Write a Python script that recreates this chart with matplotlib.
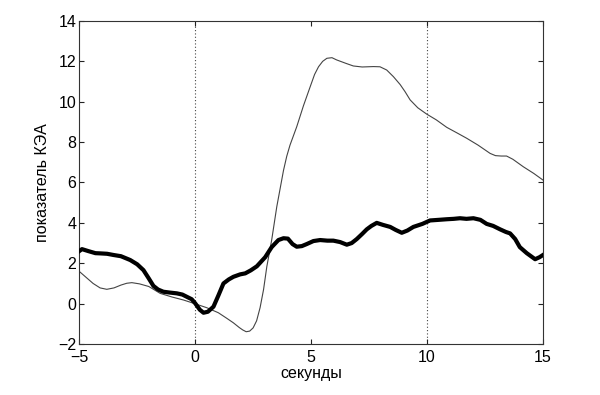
import matplotlib
matplotlib.use("Agg")
import matplotlib.pyplot as plt

plt.rcParams['font.family'] = ['Liberation Sans Narrow', 'Liberation Sans', 'DejaVu Sans']

# thin curve
thin_x = [-5, -4.7, -4.4, -4.1, -3.81, -3.5, -3.2, -2.95, -2.73, -2.4, -2.0, -1.51, -1.0, -0.5, -0.07,
          0.5, 1.0, 1.37, 1.65, 1.9, 2.05, 2.2, 2.35, 2.5, 2.65, 2.8, 2.95, 3.09, 3.3, 3.52, 3.81,
          3.95, 4.09, 4.38, 4.67, 4.96, 5.15, 5.32, 5.5, 5.68, 5.9, 6.1, 6.5, 6.82, 7.2, 7.69,
          7.97, 8.26, 8.55, 8.84, 9.05, 9.27, 9.6, 9.98, 10.4, 10.85, 11.3, 11.71, 12.2, 12.72,
          12.95, 13.2, 13.43, 13.7, 14.15, 14.6, 15.0]
thin_y = [1.6, 1.3, 1.0, 0.78, 0.71, 0.78, 0.92, 1.01, 1.04, 0.98, 0.85, 0.51, 0.33, 0.18, 0.02,
          -0.2, -0.45, -0.73, -0.95, -1.18, -1.3, -1.39, -1.36, -1.2, -0.85, -0.2, 0.7, 1.83, 3.15, 4.8, 6.6,
          7.3, 7.85, 8.76, 9.8, 10.74, 11.35, 11.73, 12.0, 12.15, 12.18, 12.07, 11.9, 11.77, 11.72, 11.74,
          11.73, 11.57, 11.24, 10.85, 10.5, 10.09, 9.7, 9.39, 9.1, 8.73, 8.45, 8.19, 7.85, 7.44,
          7.33, 7.31, 7.31, 7.15, 6.78, 6.45, 6.12]

# thick curve
thick_x = [-5.0, -4.88, -4.6, -4.3, -4.1, -3.8, -3.52, -3.2, -2.8, -2.5, -2.23, -2.0, -1.8, -1.6,
           -1.37, -1.1, -0.79, -0.55, -0.36, -0.15, 0.0, 0.2, 0.36, 0.55, 0.79, 1.0, 1.22, 1.45,
           1.65, 1.94, 2.16, 2.4, 2.66, 3.02, 3.3, 3.59, 3.81, 4.0, 4.2, 4.38, 4.6, 4.81, 5.1,
           5.39, 5.7, 5.96, 6.25, 6.54, 6.75, 6.97, 7.2, 7.4, 7.6, 7.83, 8.1, 8.41, 8.65, 8.91,
           9.15, 9.41, 9.8, 10.13, 10.5, 10.85, 11.15, 11.42, 11.7, 12.0, 12.3, 12.57, 12.85,
           13.15, 13.4, 13.58, 13.8, 14.0, 14.3, 14.66, 14.85, 15.0]
thick_y = [2.6, 2.7, 2.6, 2.5, 2.49, 2.47, 2.41, 2.35, 2.16, 1.95, 1.66, 1.25, 0.88, 0.7,
           0.59, 0.55, 0.51, 0.45, 0.34, 0.22, 0.02, -0.3, -0.45, -0.4, -0.15, 0.4, 1.0, 1.2,
           1.33, 1.45, 1.5, 1.65, 1.85, 2.3, 2.8, 3.15, 3.24, 3.22, 2.95, 2.82, 2.85, 2.95, 3.1,
           3.15, 3.12, 3.12, 3.05, 2.92, 3.0, 3.2, 3.45, 3.68, 3.85, 4.0, 3.9, 3.8, 3.65, 3.51,
           3.62, 3.8, 3.95, 4.12, 4.15, 4.18, 4.2, 4.23, 4.2, 4.23, 4.15, 3.95, 3.85,
           3.68, 3.55, 3.48, 3.2, 2.8, 2.5, 2.2, 2.3, 2.41]

xticks = [-5, 0, 5, 10, 15]
yticks = [-2, 0, 2, 4, 6, 8, 10, 12, 14]
vlines = [0, 10]

fig = plt.figure(figsize=(6.0, 3.95), dpi=100)
ax = fig.add_axes([0.132, 0.129, 0.773, 0.818])

for v in vlines:
    ax.axvline(v, color='#444444', linestyle=(0, (1, 2)), linewidth=0.8, zorder=1)

ax.plot(thin_x, thin_y, color='#444444', linewidth=0.8, zorder=2)
ax.plot(thick_x, thick_y, color='black', linewidth=3.0, zorder=3, solid_joinstyle='round')

ax.set_xlim(-5, 15)
ax.set_ylim(-2, 14)
ax.set_xticks(xticks)
ax.set_yticks(yticks)
ax.tick_params(direction='in', top=True, right=True, length=3.5, width=0.8,
               labelsize=11.5, colors='#222222', labelcolor='black')
ax.tick_params(axis='x', pad=4)
ax.tick_params(axis='y', pad=2)
for s in ax.spines.values():
    s.set_color('#333333')
    s.set_linewidth(0.8)

ax.set_xlabel('секунды', fontsize=11.5, labelpad=1)
ax.set_ylabel('показатель КЭА', fontsize=11.5, labelpad=6)

fig.savefig('out.png', dpi=100)
